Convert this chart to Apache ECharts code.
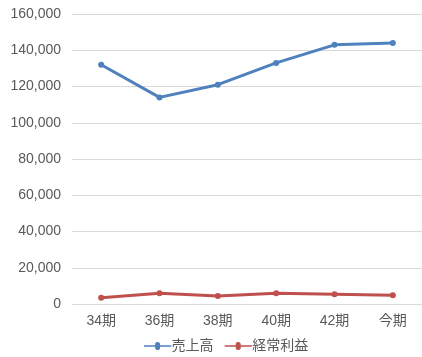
<!DOCTYPE html>
<html>
<head>
<meta charset="utf-8">
<script src="https://cdn.jsdelivr.net/npm/echarts@6/dist/echarts.min.js"></script>
<style>
  html, body { margin: 0; padding: 0; background: #fff; }
  #chart { width: 422px; height: 357px; }
</style>
</head>
<body>
<div id="chart"></div>
<script>
// Fiscal periods
const categories = ['34期', '36期', '38期', '40期', '42期', '今期'];
// Net sales
const sales = [132000, 114000, 121000, 133000, 143000, 144000];
// Ordinary profit
const ordinaryProfit = [3500, 5900, 4400, 5900, 5400, 4800];

const seriesNames = ['売上高', '経常利益'];
const colors = ['#4F81BD', '#C0504D'];

const chart = echarts.init(document.getElementById('chart'), null, { renderer: 'canvas' });

const font = '"Liberation Sans", Arial, "Noto Sans CJK JP", sans-serif';
const textColor = '#595959';

chart.setOption({
  animation: false,
  color: colors,
  textStyle: { fontFamily: font },
  grid: { left: 72, right: 0, top: 14, bottom: 53 },
  legend: {
    top: 339,
    left: 144,
    padding: 0,
    itemWidth: 28,
    itemHeight: 8,
    itemGap: 11,
    icon: 'path://M0,3.2 L11.5,3.2 A2.6,2.6 0 1,1 16.5,3.2 L28,3.2 L28,4.8 L16.5,4.8 A2.6,2.6 0 1,1 11.5,4.8 L0,4.8 Z',
    textStyle: { color: textColor, fontSize: 14, fontFamily: font, padding: [0, 0, 0, -5] },
    data: seriesNames
  },
  xAxis: {
    type: 'category',
    data: categories,
    boundaryGap: true,
    axisLine: { show: false },
    axisTick: { show: false },
    axisLabel: { color: textColor, fontSize: 14, margin: 10, fontFamily: font }
  },
  yAxis: {
    type: 'value',
    min: 0,
    max: 160000,
    interval: 20000,
    axisLine: { show: false },
    axisTick: { show: false },
    axisLabel: {
      color: textColor,
      fontSize: 14,
      margin: 11,
      fontFamily: font,
      formatter: v => v.toLocaleString('en-US')
    },
    splitLine: { lineStyle: { color: '#D9D9D9', width: 1 } }
  },
  series: [
    {
      name: seriesNames[0],
      type: 'line',
      data: sales,
      symbol: 'circle',
      symbolSize: 6,
      lineStyle: { width: 3, color: colors[0] },
      itemStyle: { color: colors[0] }
    },
    {
      name: seriesNames[1],
      type: 'line',
      data: ordinaryProfit,
      symbol: 'circle',
      symbolSize: 6,
      lineStyle: { width: 3, color: colors[1] },
      itemStyle: { color: colors[1] }
    }
  ]
});
</script>
</body>
</html>
